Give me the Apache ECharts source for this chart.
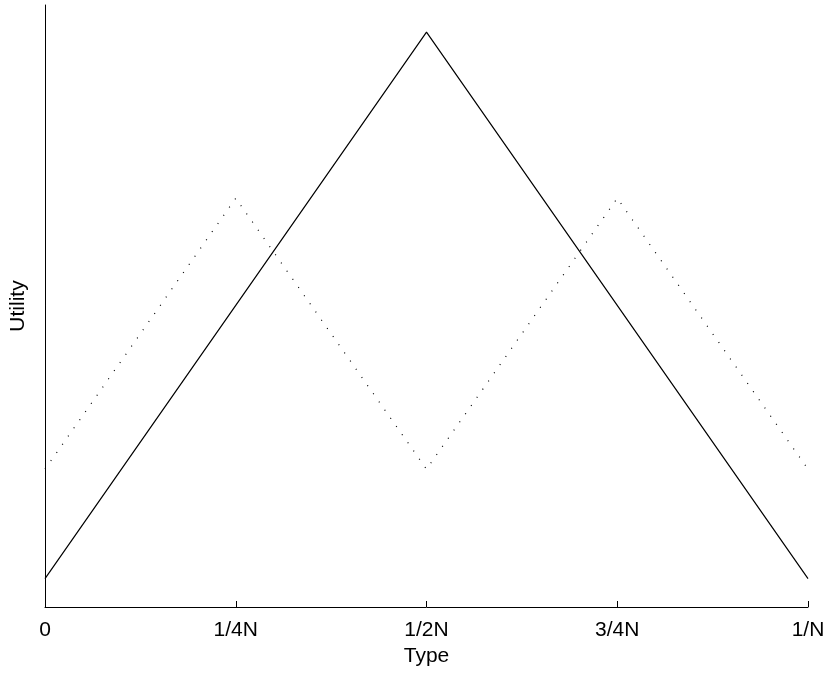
<!DOCTYPE html>
<html>
<head>
<meta charset="utf-8">
<script src="https://cdn.jsdelivr.net/npm/echarts@6/dist/echarts.min.js"></script>
<style>html,body{margin:0;padding:0;background:#fff;}#c{width:830px;height:673px;}</style>
</head>
<body>
<div id="c"></div>
<script>
var tickLabels = ['0', '1/4N', '1/2N', '3/4N', '1/N'];
var tickValues = [0, 0.25, 0.5, 0.75, 1];
var solidX = [0, 0.5, 1];
var solidY = [0.047, 0.955, 0.047];
var dottedX = [0, 0.25, 0.5, 0.75, 1];
var dottedY = [0.229, 0.679, 0.229, 0.679, 0.229];

function pairs(xs, ys) { return xs.map(function (x, i) { return [x, ys[i]]; }); }

var chart = echarts.init(document.getElementById('c'), null, { renderer: 'canvas' });
var font = "'Liberation Sans', Arial, Helvetica, sans-serif";
chart.setOption({
  animation: false,
  backgroundColor: '#fff',
  grid: { left: 45, right: 22, top: 5, bottom: 66, containLabel: false },
  xAxis: {
    type: 'value', min: 0, max: 1, interval: 0.25,
    name: 'Type', nameLocation: 'middle', nameGap: 37,
    nameTextStyle: { color: '#000', fontSize: 21, fontFamily: font },
    axisLine: { show: true, lineStyle: { color: '#000', width: 1 } },
    axisTick: { show: true, inside: true, length: 6, lineStyle: { color: '#000', width: 1 } },
    axisLabel: {
      color: '#000', fontSize: 21, fontFamily: font, margin: 13,
      formatter: function (v) { var i = tickValues.indexOf(v); return i >= 0 ? tickLabels[i] : ''; }
    },
    splitLine: { show: false }
  },
  yAxis: {
    type: 'value', min: 0, max: 1,
    name: 'Utility', nameLocation: 'middle', nameGap: 16, nameRotate: 90,
    nameTextStyle: { color: '#000', fontSize: 21, fontFamily: font },
    axisLine: { show: true, lineStyle: { color: '#000', width: 1 } },
    axisTick: { show: false },
    axisLabel: { show: false },
    splitLine: { show: false }
  },
  series: [
    {
      type: 'line', data: pairs(solidX, solidY), symbol: 'none',
      lineStyle: { color: '#000', width: 1.2 }
    },
    {
      type: 'line', data: pairs(dottedX, dottedY), symbol: 'none',
      lineStyle: { color: '#000', width: 1.2, type: [1, 9] }
    }
  ]
});
</script>
</body>
</html>
